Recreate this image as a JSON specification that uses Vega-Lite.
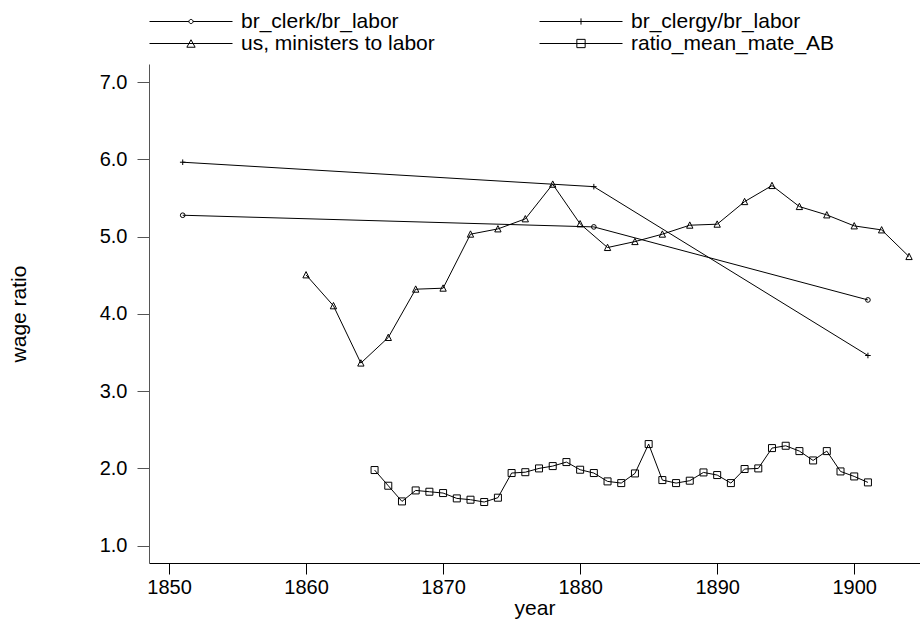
{
  "$schema": "https://vega.github.io/schema/vega-lite/v6.json",
  "width": 771,
  "height": 499,
  "autosize": {"type": "none"},
  "padding": {"left": 149, "top": 64, "right": 0, "bottom": 56},
  "background": "white",
  "config": {
    "font": "Liberation Sans",
    "view": {"stroke": null},
    "axis": {"grid": false, "domainColor": "#000", "tickColor": "#000", "labelColor": "#000", "titleColor": "#000", "labelFont": "Liberation Sans", "titleFont": "Liberation Sans", "titleFontWeight": "normal"}
  },
  "datasets": {
    "wages": [
      {"year": 1851, "series": "br_clerk/br_labor", "value": 5.276},
      {"year": 1881, "series": "br_clerk/br_labor", "value": 5.125},
      {"year": 1901, "series": "br_clerk/br_labor", "value": 4.18},
      {"year": 1851, "series": "br_clergy/br_labor", "value": 5.962},
      {"year": 1881, "series": "br_clergy/br_labor", "value": 5.646},
      {"year": 1901, "series": "br_clergy/br_labor", "value": 3.461},
      {"year": 1860, "series": "us, ministers to labor", "value": 4.504},
      {"year": 1862, "series": "us, ministers to labor", "value": 4.104},
      {"year": 1864, "series": "us, ministers to labor", "value": 3.363},
      {"year": 1866, "series": "us, ministers to labor", "value": 3.694},
      {"year": 1868, "series": "us, ministers to labor", "value": 4.319},
      {"year": 1870, "series": "us, ministers to labor", "value": 4.332},
      {"year": 1872, "series": "us, ministers to labor", "value": 5.031},
      {"year": 1874, "series": "us, ministers to labor", "value": 5.099},
      {"year": 1876, "series": "us, ministers to labor", "value": 5.229},
      {"year": 1878, "series": "us, ministers to labor", "value": 5.677},
      {"year": 1880, "series": "us, ministers to labor", "value": 5.164},
      {"year": 1882, "series": "us, ministers to labor", "value": 4.858},
      {"year": 1884, "series": "us, ministers to labor", "value": 4.935},
      {"year": 1886, "series": "us, ministers to labor", "value": 5.031},
      {"year": 1888, "series": "us, ministers to labor", "value": 5.147},
      {"year": 1890, "series": "us, ministers to labor", "value": 5.16},
      {"year": 1892, "series": "us, ministers to labor", "value": 5.452},
      {"year": 1894, "series": "us, ministers to labor", "value": 5.66},
      {"year": 1896, "series": "us, ministers to labor", "value": 5.388},
      {"year": 1898, "series": "us, ministers to labor", "value": 5.28},
      {"year": 1900, "series": "us, ministers to labor", "value": 5.138},
      {"year": 1902, "series": "us, ministers to labor", "value": 5.086},
      {"year": 1904, "series": "us, ministers to labor", "value": 4.741},
      {"year": 1865, "series": "ratio_mean_mate_AB", "value": 1.979},
      {"year": 1866, "series": "ratio_mean_mate_AB", "value": 1.776},
      {"year": 1867, "series": "ratio_mean_mate_AB", "value": 1.573},
      {"year": 1868, "series": "ratio_mean_mate_AB", "value": 1.715},
      {"year": 1869, "series": "ratio_mean_mate_AB", "value": 1.698},
      {"year": 1870, "series": "ratio_mean_mate_AB", "value": 1.681},
      {"year": 1871, "series": "ratio_mean_mate_AB", "value": 1.612},
      {"year": 1872, "series": "ratio_mean_mate_AB", "value": 1.595},
      {"year": 1873, "series": "ratio_mean_mate_AB", "value": 1.565},
      {"year": 1874, "series": "ratio_mean_mate_AB", "value": 1.621},
      {"year": 1875, "series": "ratio_mean_mate_AB", "value": 1.94},
      {"year": 1876, "series": "ratio_mean_mate_AB", "value": 1.951},
      {"year": 1877, "series": "ratio_mean_mate_AB", "value": 2.0},
      {"year": 1878, "series": "ratio_mean_mate_AB", "value": 2.03},
      {"year": 1879, "series": "ratio_mean_mate_AB", "value": 2.082},
      {"year": 1880, "series": "ratio_mean_mate_AB", "value": 1.983},
      {"year": 1881, "series": "ratio_mean_mate_AB", "value": 1.94},
      {"year": 1882, "series": "ratio_mean_mate_AB", "value": 1.832},
      {"year": 1883, "series": "ratio_mean_mate_AB", "value": 1.81},
      {"year": 1884, "series": "ratio_mean_mate_AB", "value": 1.935},
      {"year": 1885, "series": "ratio_mean_mate_AB", "value": 2.315},
      {"year": 1886, "series": "ratio_mean_mate_AB", "value": 1.849},
      {"year": 1887, "series": "ratio_mean_mate_AB", "value": 1.81},
      {"year": 1888, "series": "ratio_mean_mate_AB", "value": 1.841},
      {"year": 1889, "series": "ratio_mean_mate_AB", "value": 1.948},
      {"year": 1890, "series": "ratio_mean_mate_AB", "value": 1.914},
      {"year": 1891, "series": "ratio_mean_mate_AB", "value": 1.81},
      {"year": 1892, "series": "ratio_mean_mate_AB", "value": 1.992},
      {"year": 1893, "series": "ratio_mean_mate_AB", "value": 2.0},
      {"year": 1894, "series": "ratio_mean_mate_AB", "value": 2.263},
      {"year": 1895, "series": "ratio_mean_mate_AB", "value": 2.293},
      {"year": 1896, "series": "ratio_mean_mate_AB", "value": 2.224},
      {"year": 1897, "series": "ratio_mean_mate_AB", "value": 2.103},
      {"year": 1898, "series": "ratio_mean_mate_AB", "value": 2.224},
      {"year": 1899, "series": "ratio_mean_mate_AB", "value": 1.961},
      {"year": 1900, "series": "ratio_mean_mate_AB", "value": 1.896},
      {"year": 1901, "series": "ratio_mean_mate_AB", "value": 1.819}
    ]
  },
  "data": {"name": "wages"},
  "encoding": {
    "x": {
      "field": "year", "type": "quantitative",
      "scale": {"domain": [1848.54, 1904.8], "nice": false, "zero": false},
      "axis": {"values": [1850, 1860, 1870, 1880, 1890, 1900], "format": "d", "title": "year", "labelFontSize": 20, "titleFontSize": 21, "tickSize": 11, "labelPadding": 3, "titlePadding": 0, "labelFlush": false, "domainWidth": 1}
    },
    "y": {
      "field": "value", "type": "quantitative",
      "scale": {"domain": [0.776, 7.233], "nice": false, "zero": false},
      "axis": {"values": [1, 2, 3, 4, 5, 6, 7], "format": ".1f", "title": "wage ratio", "labelFontSize": 20, "titleFontSize": 21, "tickSize": 12, "labelPadding": 10, "titlePadding": 70, "domainColor": "#555", "tickColor": "#555"}
    }
  },
  "layer": [
    {
      "mark": {"type": "line", "color": "black", "strokeWidth": 1},
      "encoding": {"detail": {"field": "series", "type": "nominal"}}
    },
    {
      "mark": {"type": "point", "filled": false, "color": "black", "strokeWidth": 1, "opacity": 1},
      "encoding": {
        "shape": {
          "field": "series", "type": "nominal",
          "scale": {"domain": ["br_clerk/br_labor", "br_clergy/br_labor", "us, ministers to labor", "ratio_mean_mate_AB"], "range": ["circle", "M-1,0H1M0,-1V1", "M0,-1.05L1,0.95L-1,0.95Z", "square"]},
          "legend": null
        },
        "size": {
          "field": "series", "type": "nominal",
          "scale": {"domain": ["br_clerk/br_labor", "br_clergy/br_labor", "us, ministers to labor", "ratio_mean_mate_AB"], "range": [22, 49, 110, 90]},
          "legend": null
        }
      }
    },
    {
      "transform": [{"filter": "datum.year < 0"}],
      "mark": {"type": "point", "filled": false, "color": "black", "strokeWidth": 1, "opacity": 1},
      "encoding": {
        "shape": {
          "field": "series", "type": "nominal",
          "scale": {"domain": ["br_clerk/br_labor", "us, ministers to labor", "br_clergy/br_labor", "ratio_mean_mate_AB"],
            "range": [
              "M-1,0H-0.05M0.05,0H1M-0.05,0A0.05,0.05,0,1,0,0.05,0A0.05,0.05,0,1,0,-0.05,0",
              "M-1,0H1M-0.1,0.09L0,-0.09L0.1,0.09Z",
              "M-1,0H1M0,-0.075V0.075",
              "M-1,0H1M-0.1,-0.1H0.1V0.1H-0.1Z"
            ]},
          "legend": {
            "title": null, "orient": "none", "legendX": 0, "legendY": -53, "columns": 2, "columnPadding": 104, "rowPadding": 0,
            "symbolSize": 6889, "clipHeight": 21, "labelOffset": 8, "labelFontSize": 21, "labelFont": "Liberation Sans", "labelColor": "#000",
            "symbolStrokeColor": "#000", "symbolFillColor": "transparent", "symbolStrokeWidth": 1, "symbolOpacity": 1, "labelLimit": 400
          }
        }
      }
    }
  ],
  "resolve": {"scale": {"shape": "independent"}, "legend": {"shape": "independent"}}
}
